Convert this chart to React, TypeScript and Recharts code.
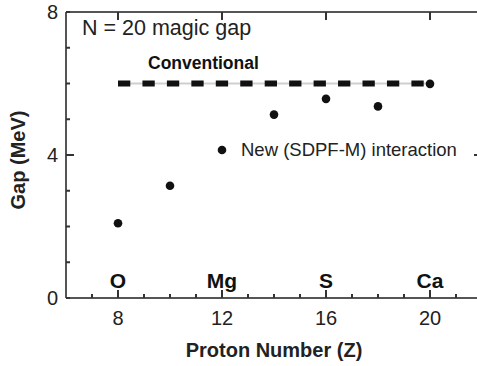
import { ComposedChart, Line, Scatter, XAxis, YAxis, ReferenceDot } from 'recharts'

// N=20 shell gap vs proton number
const protonZ = [8, 10, 12, 14, 16, 18, 20]
const gapSdpfm = [2.09, 3.14, 4.14, 5.13, 5.57, 5.36, 5.99]
const conventionalZ = [8, 20]
const conventionalGap = [6.0, 6.0]
const elementZ = [8, 12, 16, 20]
const elementNames = ['O', 'Mg', 'S', 'Ca']
const xTicks = [7, 8, 9, 10, 11, 12, 13, 14, 15, 16, 17, 18, 19, 20, 21]
const xTickLabels = [8, 12, 16, 20]
const yTicks = [0, 1, 2, 3, 4, 5, 6, 7, 8]
const yInnerTicks = [1, 2, 3, 4, 5, 6, 7]
const yTickLabels = [0, 4, 8]

const pointData = protonZ.map((z, i) => ({ z, gap: gapSdpfm[i] }))
const convData = conventionalZ.map((z, i) => ({ z, gap: conventionalGap[i] }))

const FONT = '"Liberation Sans", Arial, sans-serif'
const AXIS = '#555'
const TICK = '#333'
const W = 490
const H = 366
const M = { top: 11, right: 7, bottom: 67, left: 65 }
const PLOT_TOP = M.top + 1
const PLOT_RIGHT = W - M.right - 1
const tickLine = { stroke: TICK, strokeWidth: 2 }

// labels under majors, plus longer inward marks for majors on bottom and top frame
function XTick({ x, y, payload }: any) {
  if (!xTickLabels.includes(payload.value)) return <g />
  return (
    <g>
      <path d={`M${x},${y}V${y - 8}M${x},${PLOT_TOP}V${PLOT_TOP + 8}`} stroke={TICK} strokeWidth={2} fill="none" />
      <text x={x} y={y + 27} textAnchor="middle" fontSize={20} fill="#222" fontFamily={FONT}>
        {payload.value}
      </text>
    </g>
  )
}

function YTick({ x, y, payload }: any) {
  if (!yTickLabels.includes(payload.value)) return <g />
  const inner = payload.value > 0 && payload.value < 8
  return (
    <g>
      {inner && (
        <path d={`M${x},${y}H${x + 8}M${PLOT_RIGHT},${y}H${PLOT_RIGHT - 8}`} stroke={TICK} strokeWidth={2} fill="none" />
      )}
      <text x={x - 8} y={y + 7} textAnchor="end" fontSize={20} fill="#222" fontFamily={FONT}>
        {payload.value}
      </text>
    </g>
  )
}

const dot = (p: any) => <circle cx={p.cx} cy={p.cy} r={4.3} fill="#111" />

export default function App() {
  return (
    <div style={{ position: 'absolute', left: 0, top: 0, width: 477, height: 366, overflow: 'hidden', background: '#fff', fontFamily: FONT }}>
      <ComposedChart width={W} height={H} margin={M}>
        <XAxis xAxisId="b" dataKey="z" type="number" domain={[6, 22]} ticks={xTicks}
          interval={0} height={1} tickSize={-4} tickMargin={4} tickLine={tickLine}
          axisLine={{ stroke: AXIS, strokeWidth: 2 }} tick={XTick} />
        <XAxis xAxisId="t" dataKey="z" type="number" orientation="top" domain={[6, 22]} ticks={xTicks}
          interval={0} height={1} tickSize={-4} tickLine={tickLine} tick={false}
          axisLine={{ stroke: AXIS, strokeWidth: 2 }} />
        <YAxis yAxisId="l" type="number" domain={[0, 8]} ticks={yTicks} interval={0}
          width={1} tickSize={-4} tickMargin={4} tickLine={tickLine}
          axisLine={{ stroke: AXIS, strokeWidth: 2 }} tick={YTick} />
        <YAxis yAxisId="r" orientation="right" type="number" domain={[0, 8]} ticks={yInnerTicks}
          interval={0} width={1} tickSize={-4} tickLine={tickLine} tick={false}
          axisLine={{ stroke: AXIS, strokeWidth: 2 }} />

        <Line xAxisId="b" yAxisId="l" data={convData} dataKey="gap" stroke="#cfcfcf" strokeWidth={2}
          dot={false} isAnimationActive={false} />
        <Line xAxisId="b" yAxisId="l" data={convData} dataKey="gap" stroke="#111" strokeWidth={6}
          strokeDasharray="12.3 12.15" dot={false} isAnimationActive={false} />
        <Scatter xAxisId="b" yAxisId="l" data={pointData} dataKey="gap" shape={dot} isAnimationActive={false} />

        {elementZ.map((z, i) => (
          <ReferenceDot key={elementNames[i]} xAxisId="b" yAxisId="l" x={z} y={0.5} r={0}
            stroke="none" fill="none"
            label={{ value: elementNames[i], position: 'center', fontSize: 21, fontWeight: 700, fill: '#111', fontFamily: FONT }} />
        ))}
      </ComposedChart>

      <div style={{ position: 'absolute', left: 82, top: 16, fontSize: 21.5, color: '#222', whiteSpace: 'nowrap', lineHeight: '24px' }}>
        N = 20 magic gap
      </div>
      <div style={{ position: 'absolute', left: 148, top: 52, fontSize: 17.5, fontWeight: 700, color: '#111', whiteSpace: 'nowrap', lineHeight: '22px' }}>
        Conventional
      </div>
      <div style={{ position: 'absolute', left: 241, top: 139, fontSize: 18.5, color: '#222', whiteSpace: 'nowrap', lineHeight: '22px' }}>
        New (SDPF-M) interaction
      </div>
      <div style={{ position: 'absolute', left: 274, top: 350, transform: 'translate(-50%, -50%)', fontSize: 20, fontWeight: 700, color: '#222', whiteSpace: 'nowrap' }}>
        Proton Number (Z)
      </div>
      <div style={{ position: 'absolute', left: 18, top: 160, transform: 'translate(-50%, -50%) rotate(-90deg)', fontSize: 20, fontWeight: 700, color: '#222', whiteSpace: 'nowrap' }}>
        Gap (MeV)
      </div>
    </div>
  )
}
